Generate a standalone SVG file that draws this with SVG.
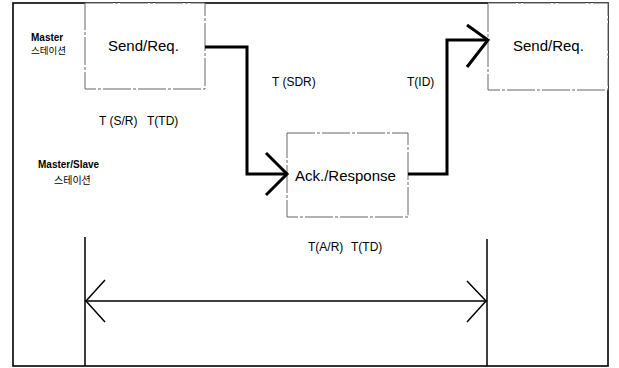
<svg xmlns="http://www.w3.org/2000/svg" width="619" height="368" viewBox="0 0 619 368">
<defs>
<style>
.frame{fill:none;stroke:#000;stroke-width:1.6}
.box{fill:#fff;stroke:#666;stroke-width:1;stroke-dasharray:28 2 3 2}
.conn{fill:none;stroke:#000;stroke-width:3;stroke-linejoin:miter}
.dim{fill:none;stroke:#000;stroke-width:1.5}
text{font-family:"Liberation Sans","Noto Sans CJK KR",Arial,sans-serif;fill:#000}
.big{font-size:15px}
.lbl{font-size:12px}
.bold{font-size:10px;font-weight:bold}
.kr{font-size:9.5px}
</style>
</defs>
<rect width="619" height="368" fill="#fff"/>
<rect class="frame" x="13" y="3" width="595" height="363"/>
<g id="node-send1">
<rect class="box" x="85" y="3" width="120" height="86"/>
<text class="big" x="108" y="51">Send/Req.</text>
</g>
<g id="node-ack">
<rect class="box" x="287" y="133" width="121" height="84"/>
<text class="big" x="295" y="181">Ack./Response</text>
</g>
<g id="node-send2">
<rect class="box" x="488" y="3" width="120" height="87"/>
<text class="big" x="513" y="51">Send/Req.</text>
</g>
<g id="connectors">
<path class="conn" d="M205,47 H247 V174 H287"/>
<path class="conn" d="M266,153 L287,174 L266,195"/>
<path class="conn" d="M408,174 H447 V40 H488"/>
<path class="conn" d="M467,25 L488,40 L467,67"/>
<path class="dim" d="M85,237 V366 M487,239 V366 M85,301 H487"/>
<path class="dim" d="M105,280 L86,301 L105,322 M467,281 L486,301 L467,322"/>
</g>
<g id="labels">
<text class="bold" x="31" y="41">Master</text>
<text class="kr" x="31" y="54">스테이션</text>
<text class="bold" x="38" y="168">Master/Slave</text>
<text class="kr" x="54" y="184" style="font-size:10px">스테이션</text>
<text class="lbl" x="99" y="125">T (S/R)</text>
<text class="lbl" x="147" y="125">T(TD)</text>
<text class="lbl" x="272" y="86">T (SDR)</text>
<text class="lbl" x="407" y="86">T(ID)</text>
<text class="lbl" x="308" y="251">T(A/R)</text>
<text class="lbl" x="351" y="251">T(TD)</text>
</g>
</svg>
